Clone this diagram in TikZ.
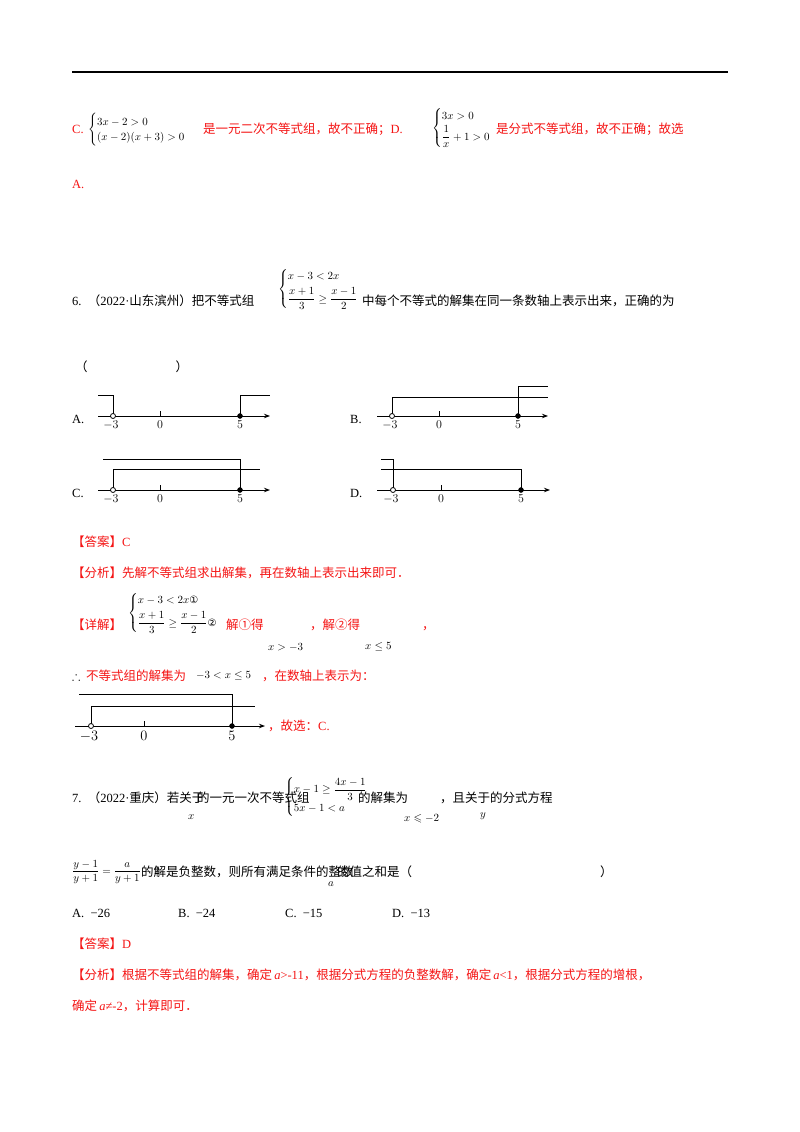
\documentclass[tikz,border=0pt]{standalone}
\usetikzlibrary{arrows.meta}
\usepackage{amsmath,amssymb}
\usepackage{fontspec}
\setmainfont{Liberation Serif}
\newfontfamily\cjk{Noto Sans CJK SC}
\newfontfamily\sym{DejaVu Sans}
\definecolor{rd}{RGB}{245,20,20}
\newcommand\fs{\fontsize{12.5}{15}\selectfont}
\newcommand\ms{\fontsize{11}{13}\selectfont}
\tikzset{t/.style={anchor=base west,inner sep=0pt,font=\fs},
  m/.style={anchor=west,inner sep=0pt,font=\ms},
  r/.style={text=rd},
  ax/.style={line width=1pt,-{Stealth[length=6pt,width=4.5pt]}},
  bl/.style={line width=0.9pt},
  oc/.style={circle,draw,line width=0.8pt,fill=white,inner sep=0pt,minimum size=5pt},
  fc/.style={circle,draw,fill=black,inner sep=0pt,minimum size=5pt},
  lab/.style={anchor=north,inner sep=0pt,font=\fontsize{12}{14}\selectfont}}
\begin{document}
\begin{tikzpicture}[x=1pt,y=-1pt]
\useasboundingbox (0,0) rectangle (800,1132);
\fill[white] (0,0) rectangle (800,1132);
\draw[line width=1.6pt] (72,72) -- (728,72);
% C / D line
\node[t,r] (c1) at (72,133) {C.};
\node[m] (c2) at (88,130) {$\begin{cases}3x-2>0\\(x-2)(x+3)>0\end{cases}$};
\node[t,r] (c3) at (203,133) {{\cjk 是一元二次不等式组，故不正确；}D.};
\node[m] (c4) at (432,128) {$\begin{cases}3x>0\\[2pt]\dfrac{1}{x}+1>0\end{cases}$};
\node[t,r] (c5) at (496,133) {\cjk 是分式不等式组，故不正确；故选};
\node[t,r] (a1) at (72,188) {A.};
% Q6
\node[t] (q6) at (72,305) {6.\ \ {\cjk （}2022·{\cjk 山东滨州）把不等式组}};
\node[m] (q6s) at (278,289) {$\begin{cases}x-3<2x\\[4pt]\dfrac{x+1}{3}\ge\dfrac{x-1}{2}\end{cases}$};
\node[t] (q6b) at (362,305) {\cjk 中每个不等式的解集在同一条数轴上表示出来，正确的为};
\node[t] (q6p) at (75,371) {\cjk （\hspace{88pt}）};
% number lines
\node[t] (la) at (72,423) {A.};
\draw[ax] (98,416) -- (270,416);
\draw[bl] (98,395) -- (113,395) -- (113,416);
\draw[bl] (240,416) -- (240,395) -- (270,395);
\draw (160,416) -- (160,411);
\node[oc] (a3) at (113,416) {}; \node[fc] (a5) at (240,416) {};
\node[lab] at (111,421) {$-3$}; \node[lab] at (160,421) {$0$}; \node[lab] at (240,421) {$5$};
\node[t] (lb) at (350,423) {B.};
\draw[ax] (377,416) -- (548,416);
\draw[bl] (392,416) -- (392,397) -- (548,397);
\draw[bl] (518,416) -- (518,386) -- (548,386);
\draw (439,416) -- (439,411);
\node[oc] (b3) at (392,416) {}; \node[fc] (b5) at (518,416) {};
\node[lab] at (390,421) {$-3$}; \node[lab] at (439,421) {$0$}; \node[lab] at (518,421) {$5$};
\node[t] (lc) at (72,497) {C.};
\draw[ax] (98,490) -- (270,490);
\draw[bl] (103,459) -- (240,459) -- (240,490);
\draw[bl] (113,490) -- (113,469) -- (260,469);
\draw (160,490) -- (160,485);
\node[oc] (c3p) at (113,490) {}; \node[fc] (c5p) at (240,490) {};
\node[lab] at (111,495) {$-3$}; \node[lab] at (160,495) {$0$}; \node[lab] at (240,495) {$5$};
\node[t] (ld) at (350,497) {D.};
\draw[ax] (377,490) -- (550,490);
\draw[bl] (381,459) -- (393,459) -- (393,490);
\draw[bl] (381,469) -- (521,469) -- (521,490);
\draw (441,490) -- (441,485);
\node[oc] (d3) at (393,490) {}; \node[fc] (d5) at (521,490) {};
\node[lab] at (391,495) {$-3$}; \node[lab] at (441,495) {$0$}; \node[lab] at (521,495) {$5$};
% answer
\node[t,r] (ans) at (72,546) {{\cjk 【答案】}C};
\node[t,r] (fx) at (72,577) {\cjk 【分析】先解不等式组求出解集，再在数轴上表示出来即可．};
\node[t,r] (xj) at (72,629) {\cjk 【详解】};
\node[m] (xs) at (128,613) {$\begin{cases}x-3<2x\text{\sym\fontsize{10}{10}\selectfont ①}\\[4pt]\dfrac{x+1}{3}\ge\dfrac{x-1}{2}\text{\sym\fontsize{10}{10}\selectfont ②}\end{cases}$};
\node[t,r] (j1) at (226,629) {\cjk 解①得};
\node[m] (s1) at (268,647) {$x>-3$};
\node[t,r] (j2) at (310,629) {\cjk ，解②得};
\node[m] (s2) at (365,647) {$x\le5$};
\node[t,r] (j3) at (422,629) {\cjk ，};
\node[t] (th) at (72,680) {$\therefore$};
\node[t,r] (th2) at (86,680) {\cjk 不等式组的解集为};
\node[m] (th3) at (196,676) {$-3<x\le5$};
\node[t,r] (th4) at (262,680) {\cjk ，在数轴上表示为：};
\draw[ax] (75,726) -- (265,726);
\draw[bl] (79,694) -- (232,694) -- (232,726);
\draw[bl] (91,726) -- (91,706) -- (255,706);
\draw (144,726) -- (144,721);
\node[oc] (e3) at (91,726) {}; \node[fc] (e5) at (232,726) {};
\node[lab,font=\fontsize{14}{16}\selectfont] at (89,731) {$-3$}; \node[lab,font=\fontsize{14}{16}\selectfont] at (144,731) {$0$}; \node[lab,font=\fontsize{14}{16}\selectfont] at (232,731) {$5$};
\node[t,r] (gx) at (268,730) {{\cjk ，故选：}C.};
% Q7
\node[t] (q7) at (72,802) {7.\ \ {\cjk （}2022·{\cjk 重庆）若关于}};
\node[m] (q7x) at (188,817) {$x$};
\node[t] (q7b) at (197,802) {\cjk 的一元一次不等式组};
\node[m] (q7s) at (284,797) {$\begin{cases}x-1\ge\dfrac{4x-1}{3}\\[2pt]5x-1<a\end{cases}$};
\node[t] (q7c) at (358,802) {\cjk 的解集为};
\node[m] (q7d) at (404,819) {$x\leqslant-2$};
\node[t] (q7e) at (440,802) {\cjk ，且关于};
\node[m] (q7y) at (480,816) {$y$};
\node[t] (q7f) at (490,802) {\cjk 的分式方程};
\node[m] (eq) at (72,872) {$\dfrac{y-1}{y+1}=\dfrac{a}{y+1}-2$};
\node[t] (q7g) at (141,876) {\cjk 的解是负整数，则所有满足条件的整数};
\node[m] (q7a) at (328,884) {$a$};
\node[t] (q7h) at (337,876) {\cjk 的值之和是（};
\node[t] (q7i) at (600,876) {\cjk ）};
\node[t] (oa) at (72,917) {A.\ \ −26};
\node[t] (ob) at (178,917) {B.\ \ −24};
\node[t] (oc7) at (285,917) {C.\ \ −15};
\node[t] (od) at (392,917) {D.\ \ −13};
\node[t,r] (ans7) at (72,948) {{\cjk 【答案】}D};
\node[t,r] (fx7) at (72,979) {{\cjk 【分析】根据不等式组的解集，确定}\,\textit{a}>-11{\cjk ，根据分式方程的负整数解，确定}\,\textit{a}<1{\cjk ，根据分式方程的增根，}};
\node[t,r] (fx7b) at (72,1010) {{\cjk 确定}\,\textit{a}≠-2{\cjk ，计算即可．}};
\end{tikzpicture}
\end{document}
